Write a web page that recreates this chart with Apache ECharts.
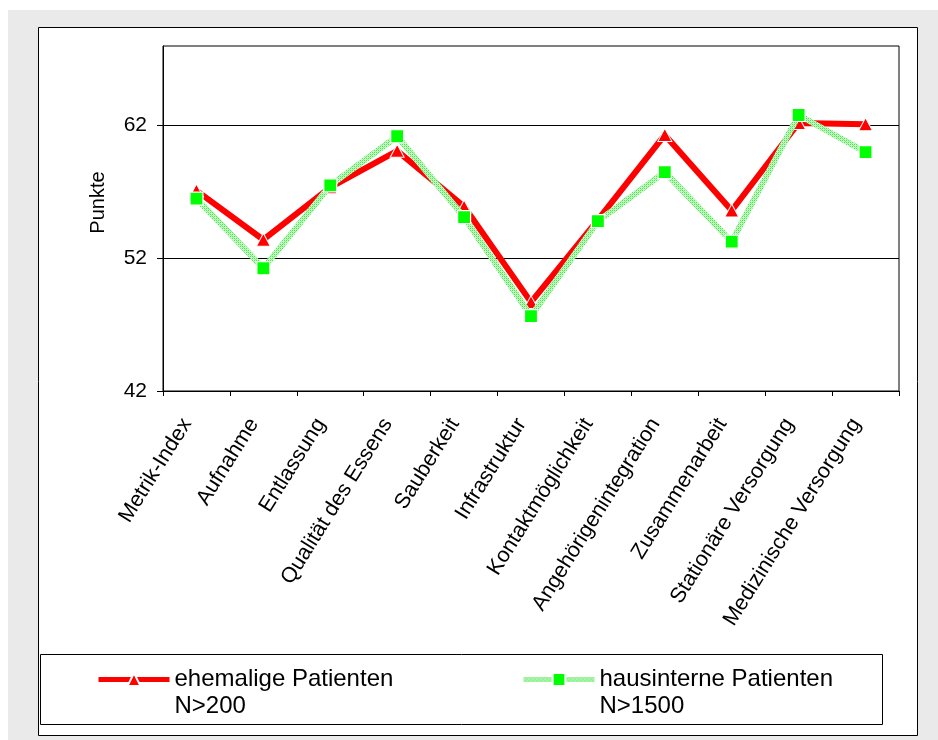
<!DOCTYPE html>
<html>
<head>
<meta charset="utf-8">
<script src="https://cdn.jsdelivr.net/npm/echarts@6/dist/echarts.min.js"></script>
<style>
html,body{margin:0;padding:0;background:#fff;}
#chart{width:938px;height:740px;}
</style>
</head>
<body>
<div id="chart"></div>
<script>
const categories = ['Metrik-Index','Aufnahme','Entlassung','Qualität des Essens','Sauberkeit','Infrastruktur','Kontaktmöglichkeit','Angehörigenintegration','Zusammenarbeit','Stationäre Versorgung','Medizinische Versorgung'];
const ehemalige = [57.1, 53.4, 57.35, 60.1, 55.9, 48.7, 54.9, 61.3, 55.6, 62.2, 62.1];
const hausinterne = [56.5, 51.25, 57.5, 61.2, 55.1, 47.65, 54.8, 58.5, 53.25, 62.8, 60.0];
const yTicks = [42, 52, 62];
const seriesNames = ['ehemalige Patienten', 'hausinterne Patienten'];
const seriesN = ['N>200', 'N>1500'];

// hatched light-green pattern for the second line
const pat = document.createElement('canvas');
pat.width = 4; pat.height = 4;
const pc = pat.getContext('2d');
pc.fillStyle = '#c4fac4'; pc.fillRect(0,0,4,4);
pc.fillStyle = '#4fe34f';
pc.fillRect(0,0,1,1); pc.fillRect(2,2,1,1); pc.fillRect(2,0,1,1); pc.fillRect(0,2,1,1);
pc.fillStyle = '#8cf08c';
pc.fillRect(1,1,1,1); pc.fillRect(3,3,1,1);

const FONT = 'Liberation Sans, Arial, sans-serif';
const chart = echarts.init(document.getElementById('chart'), null, {renderer:'canvas'});

function legendFor(idx, left) {
  return {
    data: [seriesNames[idx]],
    left: left, top: 639,
    orient: 'horizontal',
    itemWidth: 71, itemHeight: 16,
    itemGap: 0,
    padding: 0,
    lineStyle: {width: 5},
    textStyle: {fontFamily: FONT, fontSize: 24, color: '#000', lineHeight: 27},
    formatter: function (name) { return '\n' + name + '\n' + seriesN[idx]; }
  };
}

chart.setOption({
  animation: false,
  backgroundColor: '#ffffff',
  textStyle: {fontFamily: FONT},
  graphic: {elements: [
    {type:'rect', z:-10, shape:{x:8,y:10,width:930,height:730}, style:{fill:'#eaeaea'}},
    {type:'rect', z:-9, shape:{x:38.5,y:27.5,width:879,height:708}, style:{fill:'#ffffff', stroke:'#000', lineWidth:1}},
    {type:'rect', z:-8, shape:{x:40.5,y:654.5,width:842,height:70}, style:{fill:'#ffffff', stroke:'#000', lineWidth:1}}
  ]},
  legend: [legendFor(0, 96), legendFor(1, 521)],
  grid: {left:163, top:46, right:39, bottom:349, show:true, borderColor:'#000', borderWidth:1, backgroundColor:'#fff'},
  xAxis: {
    type:'category', data: categories, boundaryGap: true,
    axisLine:{lineStyle:{color:'#000', width:1}},
    axisTick:{show:true, alignWithLabel:false, length:5, lineStyle:{color:'#000'}},
    axisLabel:{interval:0, rotate:58, fontSize:21.5, color:'#000', fontFamily:FONT, margin:14, padding:[0,18,0,0]}
  },
  yAxis: {
    type:'value', min:42, max:68, interval:10,
    name:'Punkte', nameLocation:'middle', nameRotate:90, nameGap:55,
    nameTextStyle:{fontSize:20, color:'#000', fontFamily:FONT, padding:[0,0,0,32]},
    axisLine:{show:true, lineStyle:{color:'#000'}},
    axisTick:{show:true, length:6, lineStyle:{color:'#000'}, customValues: yTicks},
    axisLabel:{fontSize:21, color:'#000', fontFamily:FONT, margin:16, customValues: yTicks},
    splitLine:{show:true, lineStyle:{color:'#000', width:1}}
  },
  series: [
    {
      name: seriesNames[0], type:'line', data: ehemalige, z: 2,
      symbol:'triangle', symbolSize:[14,13],
      itemStyle:{color:'#ff0000', borderColor:'#ffffff', borderWidth:1},
      lineStyle:{color:'#ff0000', width:6},
      emphasis:{disabled:true}
    },
    {
      name: seriesNames[1], type:'line', data: hausinterne, z: 3,
      symbol:'rect', symbolSize:13,
      itemStyle:{color:'#00ff00', borderColor:'#ffffff', borderWidth:1.2},
      lineStyle:{color:{image: pat, repeat:'repeat'}, width:6},
      emphasis:{disabled:true}
    }
  ]
});
</script>
</body>
</html>
